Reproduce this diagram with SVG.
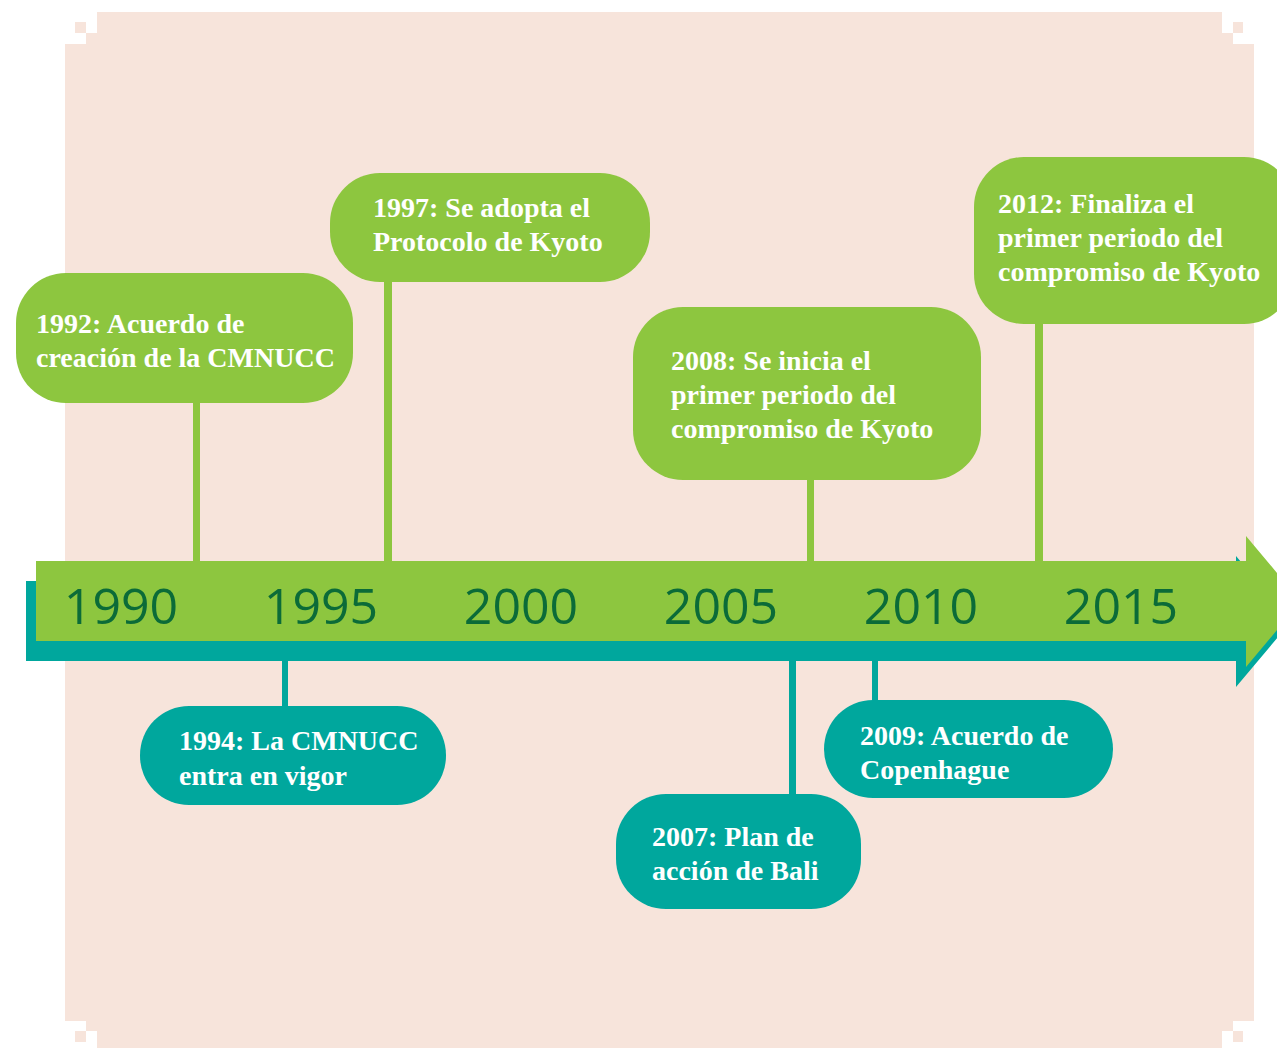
<svg xmlns="http://www.w3.org/2000/svg" width="1277" height="1048" viewBox="0 0 1277 1048">
<style>
.bg{fill:#F7E4DB}
.g{fill:#8DC63F}
.t{fill:#00A79D}
.yr{font-family:"Open Sans","Liberation Sans",sans-serif;font-size:50px;fill:#0B6B38;text-anchor:middle}
.lbl{font-family:"Liberation Serif","Times New Roman",serif;font-weight:bold;font-size:28px;fill:#FFFFFF}
</style>
<rect width="1277" height="1048" fill="#FFFFFF"/>
<g id="background">
<rect class="bg" x="65" y="44" width="1189" height="977"/>
<rect class="bg" x="86" y="33" width="1147" height="998"/>
<rect class="bg" x="97" y="12" width="1125" height="1036"/>
<rect class="bg" x="75" y="22" width="11" height="11"/>
<rect class="bg" x="1233" y="22" width="10" height="11"/>
<rect class="bg" x="75" y="1031" width="11" height="11"/>
<rect class="bg" x="1233" y="1031" width="10" height="11"/>
</g>
<g id="connectors">
<rect class="g" x="193" y="400" width="7" height="163"/>
<rect class="g" x="384" y="278" width="8" height="285"/>
<rect class="g" x="807" y="476" width="7" height="87"/>
<rect class="g" x="1035" y="320" width="8" height="243"/>
<rect class="t" x="282" y="658" width="6" height="50"/>
<rect class="t" x="789" y="658" width="7" height="138"/>
<rect class="t" x="872" y="658" width="6" height="44"/>
</g>
<g id="timeline">
<path class="t" d="M26,581 H1236 V556 L1291,621.5 L1236,687 V661 H26 Z"/>
<path class="g" d="M36,561 H1246 V536 L1301,601.5 L1246,667 V641 H36 Z"/>
<text class="yr" x="121" y="624">1990</text>
<text class="yr" x="321" y="624">1995</text>
<text class="yr" x="521" y="624">2000</text>
<text class="yr" x="721" y="624">2005</text>
<text class="yr" x="921" y="624">2010</text>
<text class="yr" x="1121" y="624">2015</text>
</g>
<g id="n1992">
<rect class="g" x="16" y="273" width="337" height="130" rx="50"/>
<text class="lbl" x="36" y="333">1992: Acuerdo de</text>
<text class="lbl" x="36" y="367">creación de la CMNUCC</text>
</g>
<g id="n1997">
<rect class="g" x="330" y="173" width="320" height="109" rx="50"/>
<text class="lbl" x="373" y="217">1997: Se adopta el</text>
<text class="lbl" x="373" y="251">Protocolo de Kyoto</text>
</g>
<g id="n2008">
<rect class="g" x="633" y="307" width="348" height="173" rx="50"/>
<text class="lbl" x="671" y="370">2008: Se inicia el</text>
<text class="lbl" x="671" y="404">primer periodo del</text>
<text class="lbl" x="671" y="438">compromiso de Kyoto</text>
</g>
<g id="n2012">
<rect class="g" x="974" y="157" width="320" height="167" rx="50"/>
<text class="lbl" x="998" y="213">2012: Finaliza el</text>
<text class="lbl" x="998" y="247">primer periodo del</text>
<text class="lbl" x="998" y="281">compromiso de Kyoto</text>
</g>
<g id="n1994">
<rect class="t" x="140" y="706" width="306" height="99" rx="49"/>
<text class="lbl" x="179" y="750">1994: La CMNUCC</text>
<text class="lbl" x="179" y="785">entra en vigor</text>
</g>
<g id="n2007">
<rect class="t" x="616" y="794" width="245" height="115" rx="50"/>
<text class="lbl" x="652" y="846">2007: Plan de</text>
<text class="lbl" x="652" y="880">acción de Bali</text>
</g>
<g id="n2009">
<rect class="t" x="824" y="700" width="289" height="98" rx="49"/>
<text class="lbl" x="860" y="745">2009: Acuerdo de</text>
<text class="lbl" x="860" y="779">Copenhague</text>
</g>
</svg>
